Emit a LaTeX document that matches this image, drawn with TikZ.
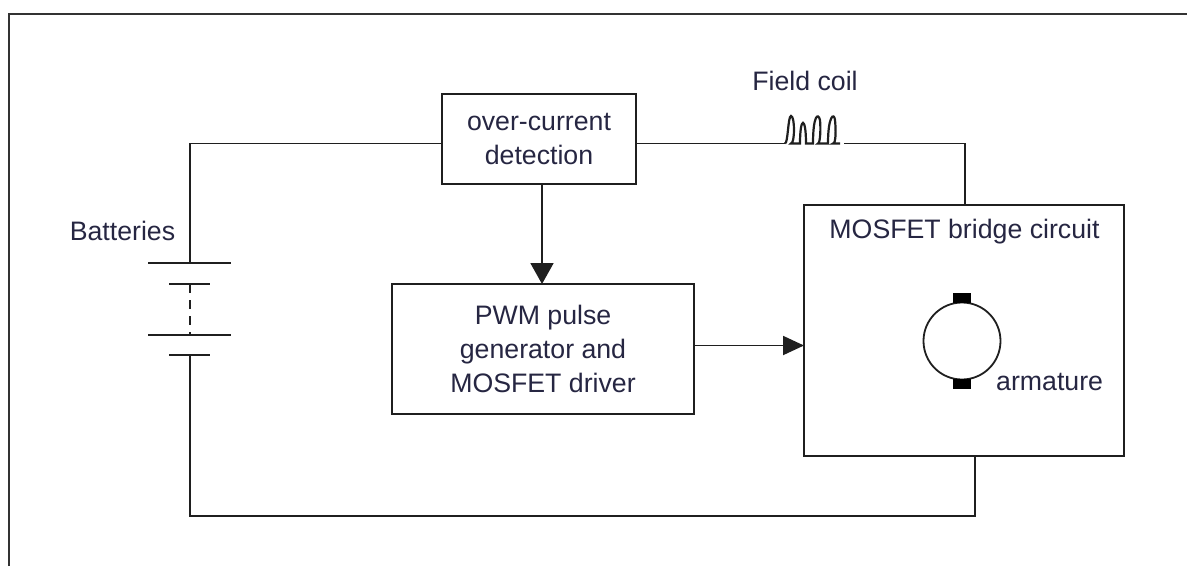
\documentclass[tikz,border=0pt]{standalone}
\usepackage{fontspec}
\setmainfont{Liberation Sans}
\usetikzlibrary{arrows.meta}
\tikzset{
  wire/.style={draw=black!88,line width=1.9pt},
  blockbox/.style={draw=black!88,line width=1.9pt,fill=white,minimum width=0pt,inner sep=0pt,align=center,text=txt,font=\fontsize{26.7}{34}\selectfont},
  lbl/.style={text=txt,inner sep=0pt,font=\fontsize{26.7}{30}\selectfont},
  arr/.style={wire,-{Triangle[length=21pt,width=23pt]},shorten >=0pt},
  arrb/.style={wire,-{Triangle[length=21pt,width=19pt]},shorten >=0pt},
  brush/.style={fill=black,draw=none,minimum width=18pt,minimum height=10pt,inner sep=0pt},
}
\definecolor{txt}{RGB}{38,38,66}
\begin{document}
\begin{tikzpicture}[x=1pt,y=-1pt]
\useasboundingbox (0,0) rectangle (1187,566);
% frame
\coordinate (fa) at (8.5,566); \coordinate (fb) at (8.5,13.5); \coordinate (fc) at (1187,13.5);
\draw[draw=black!80,line width=2pt] (fa) -- (fb) -- (fc);
% blocks
\node[blockbox,minimum width=194pt,minimum height=90pt] (oc) at (539,139) {over-current\\detection};
\node[blockbox,minimum width=302pt,minimum height=130pt] (pwm) at (543,349) {PWM pulse\\generator and\\MOSFET driver};
\node[blockbox,minimum width=320pt,minimum height=251pt] (br) at (964,330.5) {};
\node[lbl] (brt) at (964.5,232) {MOSFET bridge circuit};
% labels
\node[lbl] (bat) at (122.5,231) {Batteries};
\node[lbl] (fcl) at (805,81) {Field coil};
\node[lbl,anchor=base west] (arm) at (996,390) {armature};
% coordinates of the wiring
\coordinate (tl) at (190,143.5);
\coordinate (ocl) at (oc.west |- tl);
\coordinate (ocr) at (oc.east |- tl);
\coordinate (cl) at (785,143.5);
\coordinate (cr) at (840,143.5);
\coordinate (crr) at (844,143.5);
\coordinate (tr) at (965,143.5);
\coordinate (brtop) at (965,205);
\coordinate (p1) at (190,263);
\coordinate (p1a) at (148,263);
\coordinate (p1b) at (231,263);
\coordinate (p2) at (190,284);
\coordinate (p2a) at (169,284);
\coordinate (p2b) at (210,284);
\coordinate (p3) at (190,335);
\coordinate (p3a) at (148,335);
\coordinate (p3b) at (231,335);
\coordinate (p4) at (190,355);
\coordinate (p4a) at (169,355);
\coordinate (p4b) at (210,355);
\coordinate (bl) at (190,516);
\coordinate (brc) at (975,516);
\coordinate (brbot) at (975,456);
% wires
\draw[wire] (ocl) -- (tl) -- (p1);
\draw[wire] (p1a) -- (p1b);
\draw[wire] (p2a) -- (p2b);
\draw[wire,dash pattern=on 9pt off 7pt] (p2) -- (p3);
\draw[wire] (p3a) -- (p3b);
\draw[wire] (p4a) -- (p4b);
\draw[wire] (p4) -- (bl) -- (brc) -- (brbot);
\draw[wire] (ocr) -- (cl);
\draw[wire] (crr) -- (tr) -- (brtop);
% field coil
\draw[wire,line width=2.2pt] (cl)
  .. controls (788,143.5) and (788,116) .. (791,116) .. controls (795,116) and (795,143.5) .. (791,143.5)
  -- (800,143.5) .. controls (800,116) and (806,116) .. (806,143.5)
  -- (813,143.5) .. controls (813,116) and (818,112) .. (820,120) .. controls (821,130) and (820,143.5) .. (818,143.5)
  -- (828,143.5) .. controls (828,116) and (834,112) .. (835,120) .. controls (836,130) and (836,143.5) .. (833,143.5)
  -- (cr);
% arrows
\coordinate (dn) at (542,184);
\coordinate (dn2) at (542,284);
\coordinate (rt) at (694,345.5);
\coordinate (rt2) at (804,345.5);
\draw[arr] (dn) -- (dn2);
\draw[arrb] (rt) -- (rt2);
% armature
\node[circle,draw=black!88,line width=1.8pt,minimum size=77pt,inner sep=0pt] (mot) at (962,341) {};
\node[brush] (bt) at (962,298) {};
\node[brush] (bb) at (962,384) {};
\end{tikzpicture}
\end{document}
